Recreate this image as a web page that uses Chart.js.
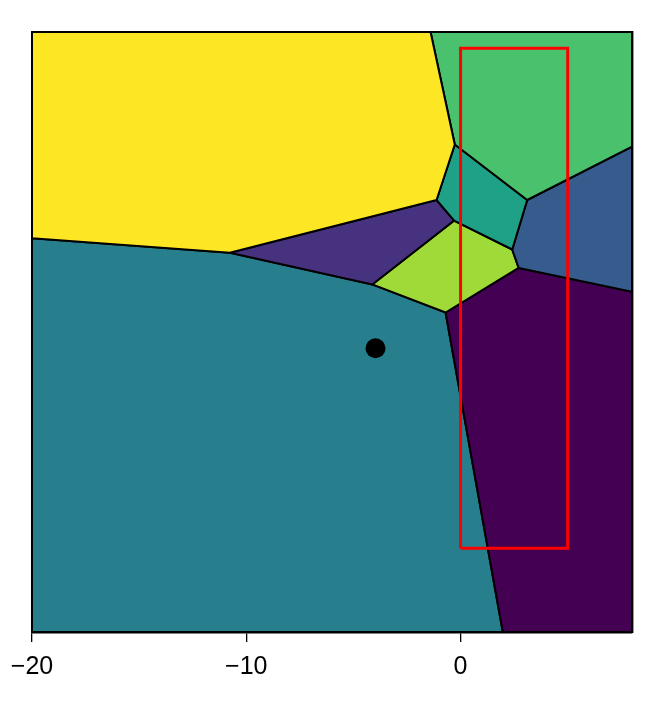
<!DOCTYPE html>
<html>
<head>
<meta charset="utf-8">
<script src="https://cdn.jsdelivr.net/npm/chart.js@4.4.1/dist/chart.umd.min.js"></script>
<style>
  html, body { margin: 0; padding: 0; background: #fff; }
  #wrap { width: 664px; height: 710px; }
</style>
</head>
<body>
<div id="wrap"><canvas id="voronoi"></canvas></div>
<script>
// Voronoi cells, vertices as [x, y]
const yellowCell = [[-1.40, 8], [-0.27, 2.75], [-1.12, 0.16], [-10.77, -2.30], [-20, -1.63], [-20, 8]];
const greenCell = [[-1.40, 8], [8, 8], [8, 2.65], [3.11, 0.16], [-0.27, 2.75]];
const tealCell = [[-0.27, 2.75], [3.11, 0.16], [2.41, -2.15], [-0.30, -0.80], [-1.12, 0.16]];
const blueCell = [[3.11, 0.16], [8, 2.65], [8, -4.12], [2.71, -3.01], [2.41, -2.15]];
const purpleCell = [[-1.12, 0.16], [-0.30, -0.80], [-4.12, -3.78], [-10.77, -2.30]];
const limeCell = [[-0.30, -0.80], [2.41, -2.15], [2.71, -3.01], [-0.70, -5.09], [-4.12, -3.78]];
const darkCell = [[2.71, -3.01], [8, -4.12], [8, -20], [1.97, -20], [-0.70, -5.09]];
const bigTealCell = [[-20, -1.63], [-10.77, -2.30], [-4.12, -3.78], [-0.70, -5.09], [1.97, -20], [-20, -20]];

const cells = [yellowCell, greenCell, tealCell, blueCell, purpleCell, limeCell, darkCell, bigTealCell];
const cellColors = ['#fde725', '#4ac16d', '#1fa187', '#365c8d', '#46327e', '#a0da39', '#440154', '#277f8e'];

// red box and marker
const boxX = [0, 5];
const boxY = [-16.09, 7.24];
const marker = [-3.97, -6.76];

const xTicks = [-20, -10, 0];
const xRange = [-20, 8];
const yRange = [-20, 8];

const toPts = arr => arr.concat([arr[0]]).map(p => ({ x: p[0], y: p[1] }));

const datasets = [];
datasets.push({
    data: [{ x: marker[0], y: marker[1] }],
    showLine: false,
    pointRadius: 10,
    pointBackgroundColor: '#000',
    pointBorderWidth: 0
});
datasets.push({
    data: [
        { x: boxX[0], y: boxY[0] }, { x: boxX[1], y: boxY[0] },
        { x: boxX[1], y: boxY[1] }, { x: boxX[0], y: boxY[1] },
        { x: boxX[0], y: boxY[0] }
    ],
    showLine: true,
    borderColor: '#ff0000',
    borderWidth: 3,
    borderJoinStyle: 'miter',
    pointRadius: 0,
    fill: false
});
cells.forEach((c, i) => {
    datasets.push({
        data: toPts(c),
        showLine: true,
        borderColor: '#000',
        borderWidth: 2,
        backgroundColor: cellColors[i],
        pointRadius: 0,
        fill: 'shape',
        tension: 0
    });
});

const frameAxis = (pos, range, horiz) => ({
    type: 'linear',
    position: pos,
    min: range[0],
    max: range[1],
    afterFit: s => { if (horiz) s.height = 0; else s.width = 0; },
    grid: { display: false },
    ticks: { display: false },
    border: { display: true, color: '#000', width: 2.4 }
});

new Chart(document.getElementById('voronoi'), {
    type: 'scatter',
    data: { datasets: datasets },
    options: {
        responsive: true,
        maintainAspectRatio: false,
        animation: false,
        layout: { padding: { left: 32, right: 32, top: 32, bottom: 0 } },
        plugins: { legend: { display: false }, tooltip: { enabled: false } },
        scales: {
            x: {
                type: 'linear',
                position: 'bottom',
                min: xRange[0],
                max: xRange[1],
                afterBuildTicks: s => { s.ticks = xTicks.map(v => ({ value: v })); },
                afterFit: s => { s.height = 78; },
                grid: { display: true, drawOnChartArea: false, drawTicks: true, tickLength: 10, color: '#000', lineWidth: 1.3 },
                border: { display: true, color: '#000', width: 2.4 },
                ticks: {
                    color: '#000',
                    padding: 10,
                    maxRotation: 0,
                    font: { family: 'Liberation Sans', size: 25 },
                    callback: v => String(v).replace('-', '\u2212')
                }
            },
            y: frameAxis('left', yRange, false),
            x2: frameAxis('top', xRange, true),
            y2: frameAxis('right', yRange, false)
        }
    }
});
</script>
</body>
</html>
